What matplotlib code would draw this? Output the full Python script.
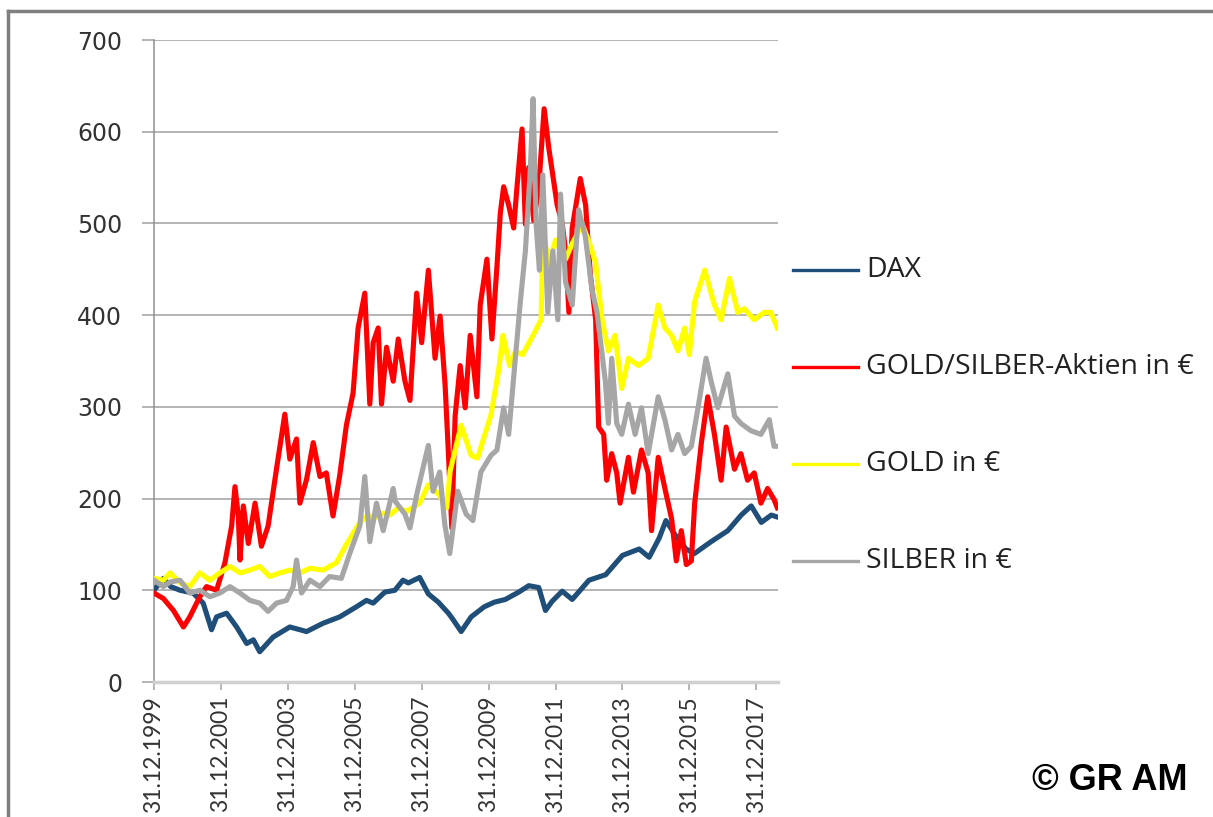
import matplotlib
matplotlib.use("Agg")
import matplotlib.pyplot as plt
from matplotlib.lines import Line2D

# --- Data (decimal years, index 31.12.1999 = 100) ---
dax_t = [2000.0, 2000.28, 2000.5, 2000.78, 2001.17, 2001.47, 2001.72, 2001.87, 2002.17, 2002.47,
         2002.77, 2002.97, 2003.16, 2003.56, 2004.06, 2004.56, 2005.05, 2005.55, 2006.05, 2006.35,
         2006.55, 2006.9, 2007.2, 2007.44, 2007.6, 2007.94, 2008.2, 2008.5, 2008.8, 2008.94,
         2009.18, 2009.48, 2009.87, 2010.17, 2010.5, 2010.9, 2011.2, 2011.5, 2011.7, 2011.9,
         2012.2, 2012.5, 2013.0, 2013.5, 2014.0, 2014.5, 2014.8, 2015.1, 2015.3, 2015.6,
         2015.9, 2016.15, 2016.65, 2017.15, 2017.55, 2017.85, 2018.15, 2018.45, 2018.62]
dax_v = [100, 113, 104, 100, 97, 86, 57, 71, 75, 60,
         42, 46, 33, 49, 60, 55, 64, 71, 82, 89,
         86, 98, 100, 111, 108, 114, 96, 87, 75, 68,
         55, 71, 82, 87, 90, 98, 105, 103, 78, 88,
         99, 90, 111, 117, 138, 145, 136, 157, 176, 159,
         145, 140, 153, 165, 182, 192, 174, 182, 180]

miners_t = [2000.0, 2000.28, 2000.58, 2000.88, 2001.07, 2001.37, 2001.57, 2001.87, 2002.12, 2002.32,
            2002.42, 2002.52, 2002.57, 2002.67, 2002.82, 2003.02, 2003.21, 2003.41, 2003.66, 2003.91,
            2004.06, 2004.26, 2004.36, 2004.56, 2004.76, 2004.96, 2005.15, 2005.35, 2005.55, 2005.75,
            2005.95, 2006.1, 2006.3, 2006.45, 2006.55, 2006.7, 2006.8, 2006.95, 2007.15, 2007.3,
            2007.5, 2007.65, 2007.85, 2008.0, 2008.2, 2008.4, 2008.55, 2008.7, 2008.8, 2008.9,
            2009.0, 2009.15, 2009.3, 2009.45, 2009.65, 2009.75, 2009.95, 2010.1, 2010.25, 2010.35,
            2010.45, 2010.6, 2010.75, 2010.85, 2011.0, 2011.1, 2011.2, 2011.35, 2011.5, 2011.66,
            2011.8, 2011.95, 2012.05, 2012.2, 2012.3, 2012.4, 2012.5, 2012.74, 2012.9, 2013.04,
            2013.2, 2013.29, 2013.44, 2013.53, 2013.68, 2013.83, 2013.93, 2014.18, 2014.33, 2014.57,
            2014.77, 2014.87, 2015.07, 2015.27, 2015.47, 2015.61, 2015.76, 2015.91, 2016.06, 2016.16,
            2016.36, 2016.55, 2016.75, 2016.95, 2017.1, 2017.35, 2017.54, 2017.74, 2017.94, 2018.14,
            2018.34, 2018.53, 2018.63]
miners_v = [97, 91, 78, 60, 71, 93, 104, 100, 130, 170,
            213, 181, 133, 192, 151, 195, 148, 170, 232, 292,
            243, 265, 195, 221, 261, 224, 228, 181, 225, 280,
            315, 386, 424, 303, 370, 386, 303, 365, 328, 374,
            328, 307, 424, 370, 449, 353, 399, 324, 249, 168,
            290, 345, 299, 378, 311, 411, 461, 374, 453, 511,
            540, 520, 495, 540, 603, 499, 561, 503, 540, 625,
            582, 545, 520, 500, 470, 403, 495, 549, 520, 445,
            395, 278, 270, 220, 249, 228, 195, 245, 207, 253,
            228, 165, 245, 211, 178, 132, 165, 128, 132, 195,
            261, 311, 270, 220, 278, 232, 249, 220, 228, 195,
            211, 199, 190]

gold_t = [2000.0, 2000.28, 2000.48, 2000.78, 2001.07, 2001.37, 2001.67, 2001.97, 2002.27, 2002.57,
          2002.87, 2003.16, 2003.46, 2003.76, 2004.06, 2004.36, 2004.66, 2005.05, 2005.45, 2005.75,
          2006.15, 2006.4, 2006.55, 2006.8, 2007.05, 2007.3, 2007.55, 2007.94, 2008.2, 2008.5,
          2008.75, 2008.85, 2009.18, 2009.48, 2009.67, 2010.07, 2010.3, 2010.43, 2010.63, 2010.8,
          2011.02, 2011.33, 2011.57, 2011.62, 2011.82, 2012.0, 2012.3, 2012.5, 2012.8, 2013.0,
          2013.2, 2013.39, 2013.58, 2013.78, 2013.98, 2014.18, 2014.48, 2014.77, 2015.07, 2015.27,
          2015.47, 2015.66, 2015.86, 2016.0, 2016.16, 2016.46, 2016.75, 2016.95, 2017.2, 2017.45,
          2017.64, 2017.94, 2018.24, 2018.44, 2018.63]
gold_v = [113, 111, 119, 108, 104, 119, 111, 119, 126, 119,
          122, 126, 115, 119, 122, 119, 124, 122, 130, 150,
          174, 182, 178, 184, 182, 190, 186, 195, 215, 205,
          190, 230, 280, 247, 244, 291, 340, 378, 345, 360,
          357, 378, 395, 490, 455, 482, 461, 478, 499, 480,
          457, 395, 361, 378, 320, 353, 345, 353, 411, 386,
          378, 361, 386, 357, 415, 449, 411, 395, 440, 403,
          407, 395, 403, 403, 386]

silver_t = [2000.0, 2000.28, 2000.48, 2000.78, 2001.07, 2001.37, 2001.67, 2001.97, 2002.27, 2002.57,
            2002.87, 2003.16, 2003.41, 2003.66, 2003.96, 2004.16, 2004.26, 2004.41, 2004.66, 2004.96,
            2005.25, 2005.6, 2005.85, 2006.15, 2006.3, 2006.45, 2006.65, 2006.85, 2007.15, 2007.21,
            2007.5, 2007.65, 2007.85, 2008.2, 2008.34, 2008.54, 2008.69, 2008.84, 2009.08, 2009.33,
            2009.53, 2009.77, 2010.07, 2010.25, 2010.45, 2010.6, 2010.8, 2010.95, 2011.1, 2011.25,
            2011.33, 2011.42, 2011.52, 2011.62, 2011.77, 2011.92, 2012.07, 2012.15, 2012.3, 2012.5,
            2012.69, 2012.89, 2013.09, 2013.24, 2013.49, 2013.58, 2013.68, 2013.83, 2013.98, 2014.18,
            2014.38, 2014.57, 2014.77, 2015.07, 2015.27, 2015.47, 2015.66, 2015.86, 2016.06, 2016.26,
            2016.5, 2016.65, 2016.85, 2017.15, 2017.35, 2017.54, 2017.84, 2018.14, 2018.39, 2018.53,
            2018.63]
silver_v = [111, 104, 109, 111, 97, 100, 93, 97, 104, 97,
            89, 86, 77, 86, 89, 104, 133, 97, 111, 104,
            115, 113, 140, 170, 224, 153, 195, 165, 211, 197,
            183, 168, 204, 258, 208, 229, 172, 140, 208, 183,
            176, 229, 247, 253, 299, 270, 353, 415, 470, 561,
            636, 499, 449, 553, 403, 470, 395, 532, 436, 411,
            515, 486, 428, 403, 328, 282, 353, 282, 270, 303,
            270, 299, 249, 311, 286, 253, 270, 249, 257, 299,
            353, 328, 299, 336, 290, 282, 274, 270, 286, 257,
            257]

series_labels = ["DAX", "GOLD/SILBER-Aktien in €", "GOLD in €", "SILBER in €"]
series_colors = ["#1F4E79", "#FF0000", "#FFFF00", "#A6A6A6"]

tick_years = list(range(2000, 2019, 2))
tick_labels = [f"31.12.{y - 1}" for y in tick_years]
y_ticks = list(range(0, 701, 100))

W, H = 1213, 817
fig = plt.figure(figsize=(W / 100, H / 100), dpi=100)
fig.patch.set_facecolor("white")

# plot area in pixel coords of the reference
left, right, top, bottom = 154, 778, 40, 682
ax = fig.add_axes([left / W, 1 - bottom / H, (right - left) / W, (bottom - top) / H])

series = [(dax_t, dax_v), (miners_t, miners_v), (gold_t, gold_v), (silver_t, silver_v)]
for (t, v), color, label in zip(series, series_colors, series_labels):
    ax.plot(t, v, color=color, lw=3.7, solid_joinstyle="round", label=label, zorder=3)

ax.set_xlim(2000, 2018.65)
ax.set_ylim(0, 700)
ax.set_yticks(y_ticks)
ax.set_yticklabels([str(y) for y in y_ticks], fontfamily="DejaVu Sans", fontsize=17, color="#333333")
ax.set_xticks(tick_years)
ax.set_xticklabels(tick_labels, rotation=90, fontfamily="Lato", fontsize=16.5, color="#333333")
ax.grid(axis="y", color="#A0A0A0", lw=1.1, zorder=0)
ax.tick_params(axis="y", length=9, width=1.1, color="#A0A0A0", pad=14)
ax.tick_params(axis="x", length=6, width=1.1, color="#A0A0A0", pad=4)
for side in ["top", "right"]:
    ax.spines[side].set_visible(False)
ax.spines["left"].set_color("#909090")
ax.spines["left"].set_linewidth(1.1)
ax.spines["bottom"].set_color("#D0D0D0")
ax.spines["bottom"].set_linewidth(2.5)

# legend, drawn by hand to match the spacing of the original
for i, (label, color) in enumerate(zip(series_labels, series_colors)):
    yy = 1 - (270 + 97 * i) / H
    fig.add_artist(Line2D([793 / W, 858 / W], [yy, yy], transform=fig.transFigure,
                          color=color, lw=2.4))
    fig.text(866 / W, yy, label, va="center", ha="left", fontfamily="Open Sans",
             fontsize=20.5, color="#222222")

fig.text(1187 / W, 1 - 780 / H, "© GR AM", ha="right", va="center",
         fontfamily="Liberation Sans", fontweight="bold", fontsize=26, color="black")

# outer frame (left and top edges visible in the original)
fig.add_artist(Line2D([8 / W, 8 / W], [0, 1 - 11 / H], transform=fig.transFigure,
                      color="#7F7F7F", lw=2.5))
fig.add_artist(Line2D([8 / W, 1], [1 - 11 / H, 1 - 11 / H], transform=fig.transFigure,
                      color="#7F7F7F", lw=2.5))

fig.savefig("out.png", dpi=100)
